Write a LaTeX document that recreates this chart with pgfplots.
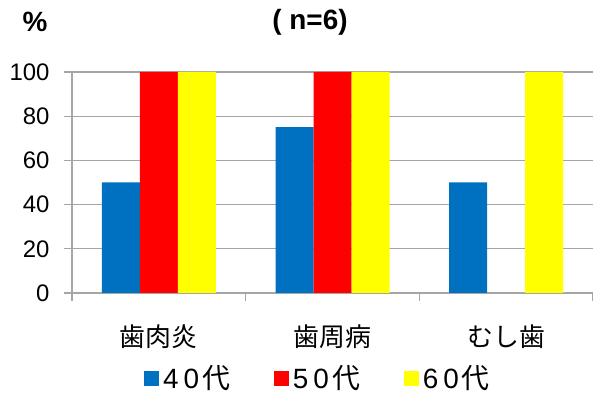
\documentclass[border=0pt]{standalone}
\usepackage{pgfplots}
\pgfplotsset{compat=1.18}
\usepackage{fontspec}
\setmainfont{Liberation Sans}
\newfontfamily\cjk{Noto Sans CJK JP}
\definecolor{b40}{HTML}{0070C0}
\definecolor{r50}{HTML}{FF0000}
\definecolor{y60}{HTML}{FFFF00}
\definecolor{gridc}{HTML}{A6A6A6}
\newcommand{\dg}[2]{\fontsize{28}{30}\selectfont #1\kern5bp #2\kern3bp{\cjk 代}}
\begin{document}
\begin{tikzpicture}
\useasboundingbox (0,0) rectangle (593bp,396bp);
\node[font=\fontsize{28}{30}\selectfont\bfseries] at (35bp,374bp) {\%};
\node[font=\fontsize{28}{30}\selectfont\bfseries] at (310bp,374bp) {( n=6)};
\begin{axis}[
  at={(72bp,103bp)}, anchor=south west,
  scale only axis, width=521bp, height=221bp,
  ybar=0pt, bar width=38bp,
  xmin=-0.5, xmax=2.5, ymin=0, ymax=100,
  axis x line*=bottom, axis y line*=left,
  axis line style={gridc, line width=1.5bp},
  ytick={0,20,40,60,80,100},
  ymajorgrids, grid style={gridc, line width=1.2bp},
  y tick style={gridc, line width=1.2bp},
  tick align=outside, major tick length=8bp,
  xtick={0,1,2},
  xticklabels={{\cjk 歯肉炎},{\cjk 歯周病},{\cjk むし歯}},
  x tick style={draw=none},
  extra x ticks={-0.5,0.5,1.5,2.5},
  extra x tick labels={},
  extra x tick style={x tick style={draw=gridc, line width=1.5bp}, major tick length=8bp, grid=none},
  /pgf/number format/assume math mode=true,
  ticklabel style={font=\fontsize{24}{26}\selectfont},
  xticklabel style={font=\fontsize{26}{28}\selectfont, yshift=-20bp},
  yticklabel style={xshift=-11bp},
  legend columns=3,
  legend style={at={(0.474,-0.385)}, anchor=center, draw=none, fill=none,
    nodes={inner xsep=4bp},
    /tikz/every odd column/.append style={column sep=0bp},
    /tikz/every even column/.append style={column sep=40bp}},
  legend image code/.code={\fill[#1,draw=none] (0bp,-7.5bp) rectangle (15bp,7.5bp);},
]
\addplot[fill=b40, draw=none] coordinates {(0,50) (1,75) (2,50)};
\addplot[fill=r50, draw=none] coordinates {(0,100) (1,100) (2,0)};
\addplot[fill=y60, draw=none] coordinates {(0,100) (1,100) (2,100)};
\legend{\dg40,\dg50,\dg60}
\end{axis}
\end{tikzpicture}
\end{document}
